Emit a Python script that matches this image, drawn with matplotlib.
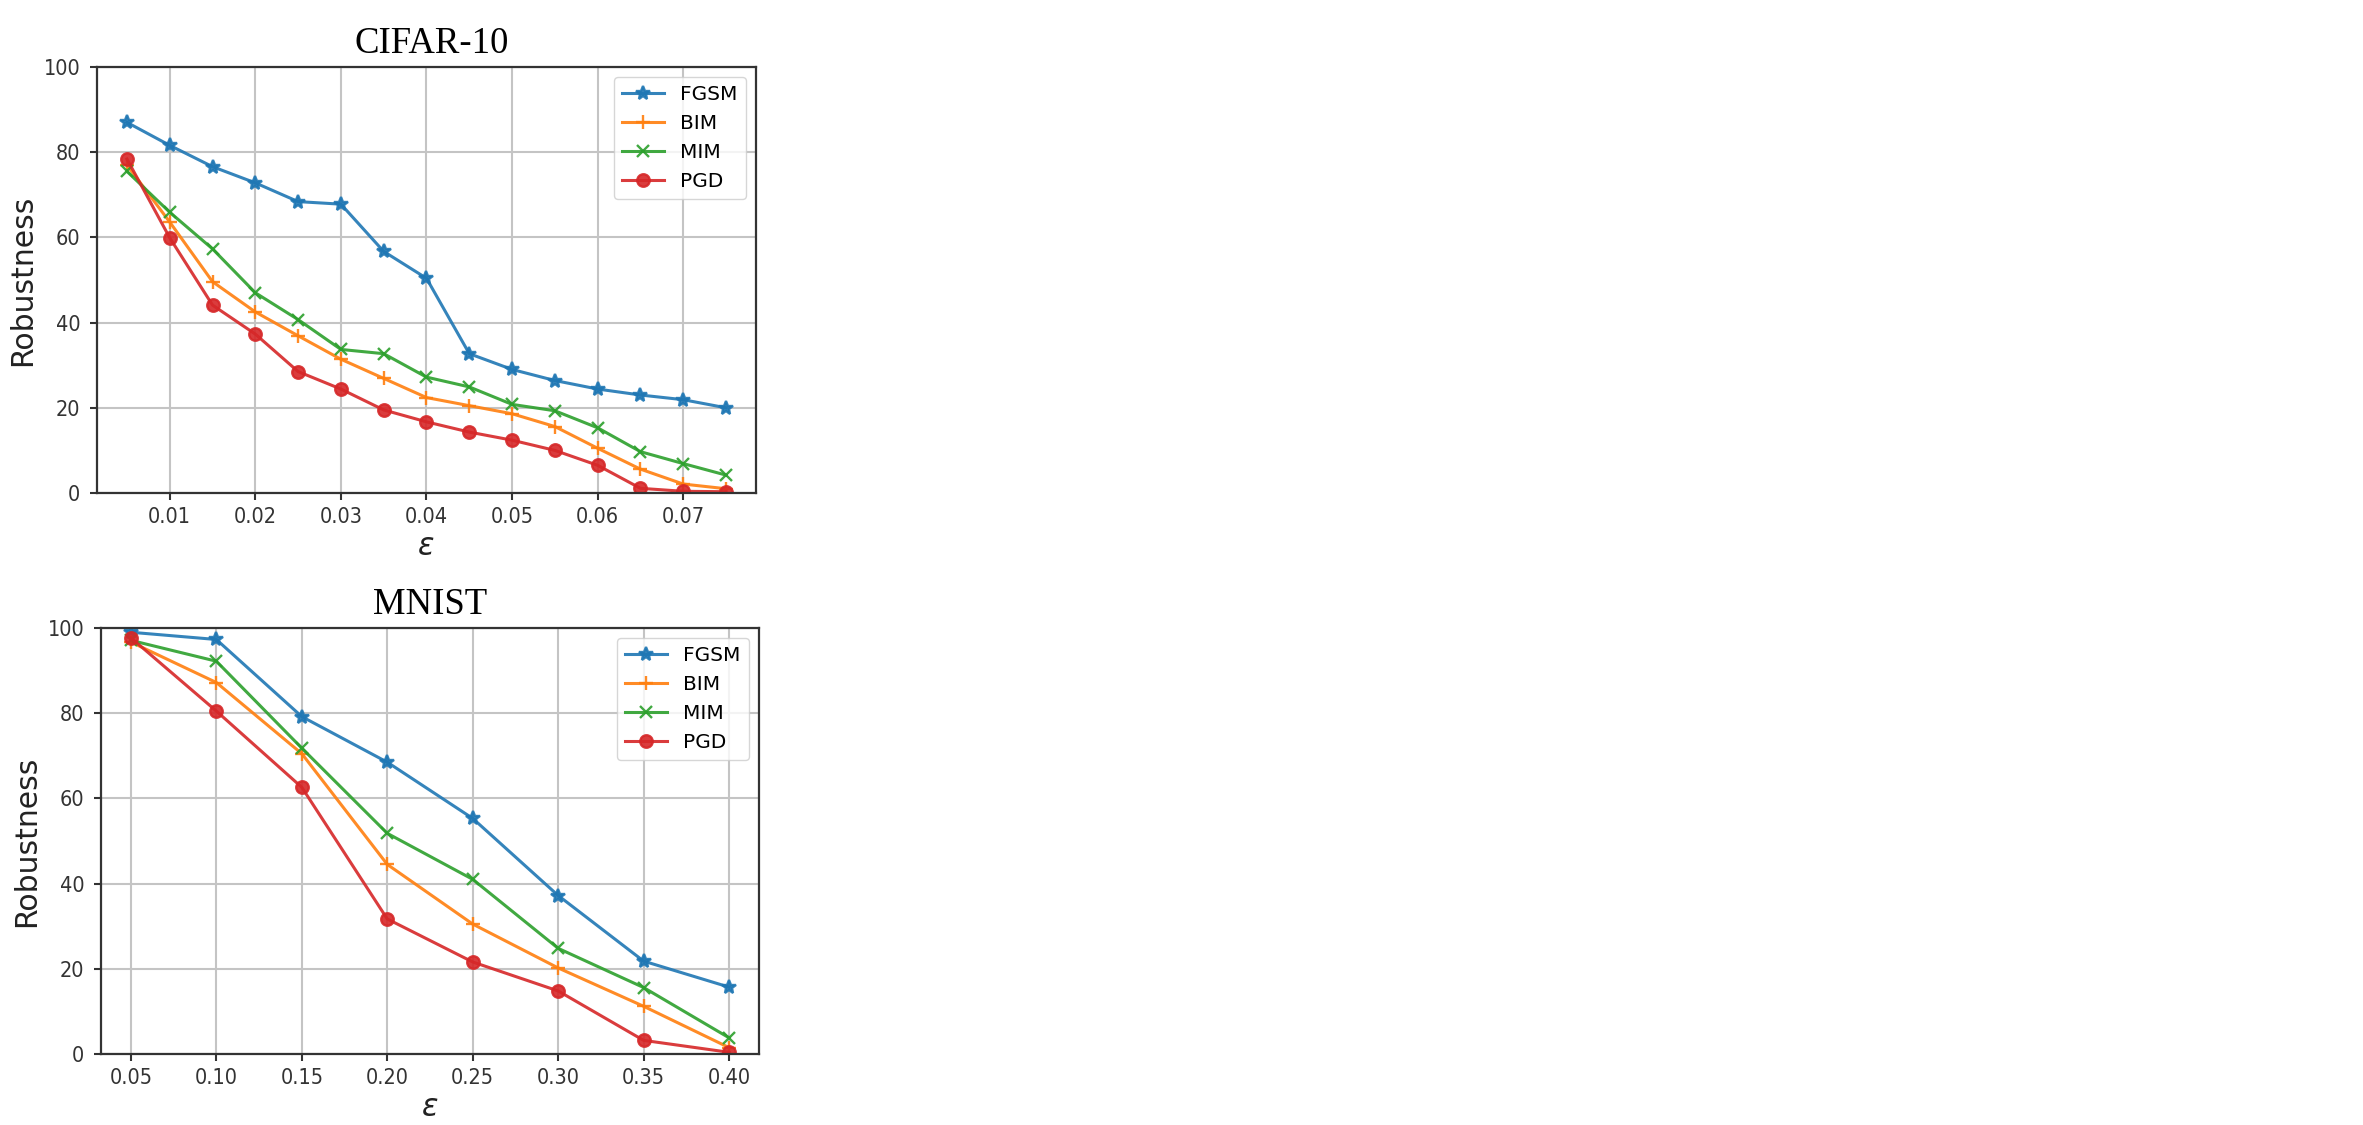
import matplotlib
matplotlib.use("Agg")
import matplotlib.pyplot as plt
from matplotlib.ticker import FormatStrFormatter

# CIFAR-10
eps_cifar = [0.005, 0.010, 0.015, 0.020, 0.025, 0.030, 0.035, 0.040,
             0.045, 0.050, 0.055, 0.060, 0.065, 0.070, 0.075]
cifar_fgsm = [87.0, 81.6, 76.6, 72.8, 68.4, 67.8, 56.7, 50.4, 32.7, 29.0, 26.4, 24.4, 23.0, 21.9, 20.0]
cifar_bim = [77.0, 63.6, 49.6, 42.5, 36.9, 31.4, 26.9, 22.4, 20.5, 18.6, 15.6, 10.5, 5.6, 2.1, 1.0]
cifar_mim = [75.5, 65.9, 57.3, 47.0, 40.7, 33.7, 32.7, 27.2, 24.9, 20.8, 19.3, 15.3, 9.7, 6.9, 4.2]
cifar_pgd = [78.4, 59.9, 44.1, 37.3, 28.5, 24.4, 19.5, 16.7, 14.3, 12.4, 10.0, 6.5, 1.1, 0.4, 0.3]
cifar_ticks = [0.01, 0.02, 0.03, 0.04, 0.05, 0.06, 0.07]

# MNIST
eps_mnist = [0.05, 0.10, 0.15, 0.20, 0.25, 0.30, 0.35, 0.40]
mnist_fgsm = [99.0, 97.3, 79.2, 68.5, 55.3, 37.2, 21.8, 15.7]
mnist_bim = [96.7, 87.2, 70.5, 44.5, 30.5, 20.2, 11.2, 1.5]
mnist_mim = [97.1, 92.2, 71.8, 51.8, 41.0, 24.8, 15.6, 3.8]
mnist_pgd = [97.7, 80.5, 62.6, 31.7, 21.6, 14.8, 3.2, 0.4]
mnist_ticks = [0.05, 0.10, 0.15, 0.20, 0.25, 0.30, 0.35, 0.40]

labels = ["FGSM", "BIM", "MIM", "PGD"]
markers = ["*", "+", "x", "o"]
colors = ["C0", "C1", "C2", "C3"]
msizes = [10, 10, 9, 9]

plt.rcParams["font.family"] = ["DejaVu Sans"]
plt.rcParams["font.stretch"] = "condensed"

fig = plt.figure(figsize=(23.63, 11.25), dpi=100)


def draw(ax, eps, series, ticks, fmt, title, title_x):
    for vals, lab, mk, col, ms in zip(series, labels, markers, colors, msizes):
        ax.plot(eps, vals, marker=mk, color=col, label=lab, linewidth=2.2,
                markersize=ms, markeredgewidth=1.7, alpha=0.9)
    ax.set_ylim(0, 100)
    ax.set_yticks([0, 20, 40, 60, 80, 100])
    ax.set_xticks(ticks)
    ax.xaxis.set_major_formatter(FormatStrFormatter(fmt))
    ax.grid(True, color="#c4c4c4", linewidth=1.5)
    ax.set_axisbelow(True)
    for s in ax.spines.values():
        s.set_linewidth(1.6)
        s.set_color("#333333")
    ax.tick_params(axis="both", labelsize=15.5, length=5, width=1.5,
                   colors="#333333")
    ax.tick_params(axis="x", pad=5)
    ax.tick_params(axis="y", pad=7)
    ax.set_ylabel("Robustness", fontsize=21.5, labelpad=5, fontstretch="normal",
                  color="#222222")
    ax.set_xlabel("ε", fontsize=22, fontstyle="italic", fontstretch="normal",
                  color="#222222")
    ax.set_title(title, fontsize=26.5, family="Liberation Serif", pad=10, x=title_x)
    ax.legend(loc="upper right", prop={"size": 14.5, "stretch": "normal"},
              framealpha=0.8, handlelength=2.1)


ax1 = fig.add_axes([0.04105, 0.56178, 0.27888, 0.37867])
draw(ax1, eps_cifar, [cifar_fgsm, cifar_bim, cifar_mim, cifar_pgd],
     cifar_ticks, "%.2f", "CIFAR-10", 0.508)

ax2 = fig.add_axes([0.04274, 0.06311, 0.27846, 0.37867])
draw(ax2, eps_mnist, [mnist_fgsm, mnist_bim, mnist_mim, mnist_pgd],
     mnist_ticks, "%.2f", "MNIST", 0.5)

fig.savefig("out.png", dpi=100)
